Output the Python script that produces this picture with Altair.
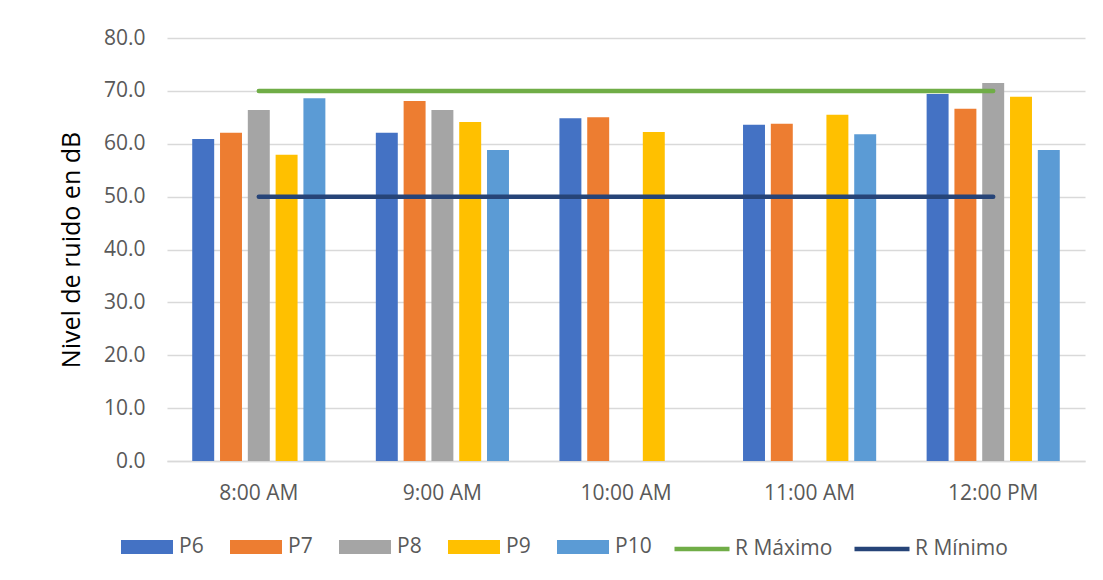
import altair as alt
import pandas as pd

horas = ["8:00 AM", "9:00 AM", "10:00 AM", "11:00 AM", "12:00 PM"]
series = ["P6", "P7", "P8", "P9", "P10"]
p6 = [60.9, 62.1, 64.8, 63.6, 69.4]
p7 = [62.1, 68.1, 65.0, 63.8, 66.6]
p8 = [66.4, 66.4, None, None, 71.5]
p9 = [57.9, 64.1, 62.2, 65.5, 68.9]
p10 = [68.6, 58.8, None, 61.8, 58.8]
r_max = [70.0, 70.0, 70.0, 70.0, 70.0]
r_min = [50.0, 50.0, 50.0, 50.0, 50.0]

bar_colors = ["#4472C4", "#ED7D31", "#A5A5A5", "#FFC000", "#5B9BD5"]
line_names = ["R Máximo", "R Mínimo"]
line_colors = ["#70AD47", "#264478"]

rows = []
for name, vals in zip(series, [p6, p7, p8, p9, p10]):
    for h, v in zip(horas, vals):
        if v is not None:
            rows.append({"hora": h, "serie": name, "valor": v})
bars_df = pd.DataFrame(rows)

lrows = []
for name, vals in zip(line_names, [r_max, r_min]):
    for h, v in zip(horas, vals):
        lrows.append({"hora": h, "ref": name, "valor": v})
lines_df = pd.DataFrame(lrows)

FONT = "Open Sans"
GREY_TXT = "#595959"

x_enc = alt.X("hora:N", sort=horas, title=None,
              scale=alt.Scale(paddingInner=0.243, paddingOuter=0.1215),
              axis=alt.Axis(labelAngle=0, ticks=False, labelPadding=21,
                            domainColor="#D9D9D9", domainWidth=1.3, labelFontSize=21,
                            labelColor=GREY_TXT, labelFont=FONT))
y_enc = alt.Y("valor:Q", title="Nivel de ruido en dB",
              scale=alt.Scale(domain=[0, 80]),
              axis=alt.Axis(values=[0, 10, 20, 30, 40, 50, 60, 70, 80], format=".1f",
                            ticks=False, domain=False, labelPadding=22,
                            gridColor="#D9D9D9", gridWidth=1.3,
                            labelFontSize=21, labelColor=GREY_TXT, labelFont=FONT,
                            titleFontSize=25, titleFont=FONT, titleColor="#000000",
                            titleFontWeight="normal", titlePadding=19))

bars = alt.Chart(bars_df).mark_bar().encode(
    x=x_enc,
    xOffset=alt.XOffset("serie:N", sort=series,
                        scale=alt.Scale(domain=series, paddingInner=0.21, paddingOuter=0.105)),
    y=y_enc,
    color=alt.Color("serie:N", sort=series,
                    scale=alt.Scale(domain=series, range=bar_colors),
                    legend=alt.Legend(orient="none", legendX=-46, legendY=483,
                                      direction="horizontal", title=None,
                                      symbolType="M-1,-0.27H1V0.27H-1Z", symbolSize=2704,
                                      symbolStrokeWidth=0, symbolOpacity=1,
                                      labelFontSize=21, labelColor=GREY_TXT,
                                      labelFont=FONT, labelOffset=6, columnPadding=26)),
)

lines = alt.Chart(lines_df).mark_line(strokeWidth=4.5, strokeCap="round").encode(
    x=alt.X("hora:N", sort=horas),
    y=alt.Y("valor:Q"),
    color=alt.Color("ref:N", sort=line_names,
                    scale=alt.Scale(domain=line_names, range=line_colors),
                    legend=alt.Legend(orient="none", legendX=505, legendY=481,
                                      direction="horizontal", title=None,
                                      symbolType="stroke", symbolSize=3025,
                                      symbolStrokeWidth=4.5,
                                      labelFontSize=21, labelColor=GREY_TXT,
                                      labelFont=FONT, labelOffset=3, columnPadding=12)),
)

chart = alt.layer(bars, lines).resolve_scale(color="independent").properties(
    width=918, height=423,
    autosize=alt.AutoSizeParams(type="none"),
    padding={"left": 159, "top": 30, "right": 10, "bottom": 111},
    background="white",
).configure_view(stroke=None)

chart.save("out.html", embed_options={"renderer": "svg", "actions": False})
